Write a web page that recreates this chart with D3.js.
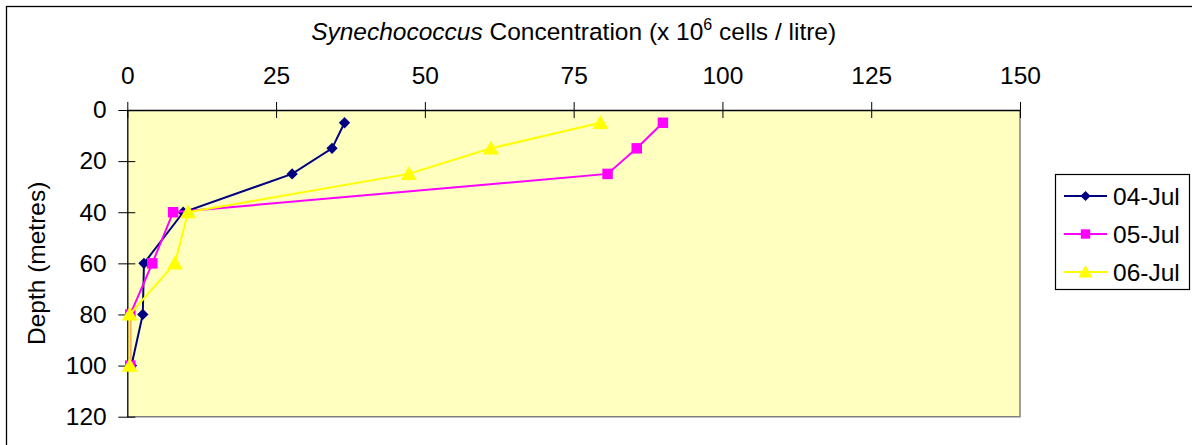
<!DOCTYPE html>
<html>
<head>
<meta charset="utf-8">
<script src="https://cdn.jsdelivr.net/npm/d3@7"></script>
<style>
  html, body { margin: 0; padding: 0; background: #fff; }
  svg { display: block; }
  text { font-family: "Liberation Sans", Arial, sans-serif; fill: #000; }
</style>
</head>
<body>
<svg id="chart" width="1192" height="445"></svg>
<script>
// Depth profile samples (metres)
const depths = [5, 15, 25, 40, 60, 80, 100];
// Synechococcus concentration (x10^6 cells / litre) for each sampling day
const seriesNames = ["04-Jul", "05-Jul", "06-Jul"];
const jul04 = [36.5, 34.4, 27.7, 9.4, 2.8, 2.6, 0.7];
const jul05 = [90.0, 85.6, 80.7, 7.7, 4.2, 0.5, 0.5];
const jul06 = [79.5, 61.1, 47.3, 10.2, 8.0, 0.4, 0.4];
const xTicks = [0, 25, 50, 75, 100, 125, 150];
const yTicks = [0, 20, 40, 60, 80, 100, 120];

const colors = ["#000080", "#ff00ff", "#ffff00"];
// diamond = square turned 45 degrees
const symbols = [d3.symbolSquare, d3.symbolSquare, d3.symbolTriangle];
const rotations = [45, 0, 0];
const symbolSizes = [64, 110, 110];
const FS = 24.5;

const svg = d3.select("#chart");
const plot = { left: 127.3, top: 110, right: 1020, bottom: 416.7 };

const x = d3.scaleLinear().domain([0, 150]).range([plot.left, plot.right]);
const y = d3.scaleLinear().domain([0, 120]).range([plot.top, plot.bottom]);

// Outer chart frame
svg.append("rect")
  .attr("x", 6.5).attr("y", 6.5)
  .attr("width", 1200).attr("height", 460)
  .attr("fill", "none").attr("stroke", "#000").attr("stroke-width", 1.3);

// Plot area background with grey right/bottom edges
svg.append("rect")
  .attr("x", plot.left).attr("y", plot.top)
  .attr("width", plot.right - plot.left).attr("height", plot.bottom - plot.top)
  .attr("fill", "#ffffc0");
svg.append("path")
  .attr("d", `M${plot.right},${plot.top}V${plot.bottom}H${plot.left}`)
  .attr("fill", "none").attr("stroke", "#808080").attr("stroke-width", 1.5);

// Top (concentration) axis
const xAxis = svg.append("g")
  .attr("transform", `translate(0,${plot.top})`)
  .call(d3.axisTop(x).tickValues(xTicks).tickFormat(d3.format("d")).tickSizeOuter(0).tickPadding(20.5));
xAxis.select(".domain").attr("stroke", "#000").attr("stroke-width", 1.3);
xAxis.selectAll(".tick line").attr("y1", 8).attr("y2", -8).attr("stroke", "#000");
xAxis.selectAll(".tick text").attr("font-size", FS).attr("font-family", "Liberation Sans, Arial, sans-serif").attr("fill", "#000");

// Left (depth) axis
const yAxis = svg.append("g")
  .attr("transform", `translate(${plot.left},0)`)
  .call(d3.axisLeft(y).tickValues(yTicks).tickFormat(d3.format("d")).tickSizeOuter(0).tickPadding(14.6));
yAxis.select(".domain").attr("stroke", "#000").attr("stroke-width", 1.3);
yAxis.selectAll(".tick line").attr("x1", 8).attr("x2", -9).attr("stroke", "#000");
yAxis.selectAll(".tick text").attr("font-size", FS).attr("font-family", "Liberation Sans, Arial, sans-serif").attr("fill", "#000");

// Axis titles
const title = svg.append("text")
  .attr("x", (plot.left + plot.right) / 2).attr("y", 40)
  .attr("text-anchor", "middle").attr("font-size", FS);
title.append("tspan").attr("font-style", "italic").text("Synechococcus");
title.append("tspan").text(" Concentration (x 10");
title.append("tspan").attr("font-size", 16).attr("dy", -10).text("6");
title.append("tspan").attr("dy", 10).text(" cells / litre)");

svg.append("text")
  .attr("transform", `translate(45,${(plot.top + plot.bottom) / 2}) rotate(-90)`)
  .attr("text-anchor", "middle").attr("font-size", FS)
  .text("Depth (metres)");

// Series lines and markers
const allSeries = [jul04, jul05, jul06];
const line = d3.line().x(d => x(d.v)).y(d => y(d.depth));

allSeries.forEach((vals, i) => {
  const pts = vals.map((v, j) => ({ v, depth: depths[j] }));
  const g = svg.append("g");
  g.append("path")
    .datum(pts)
    .attr("d", line)
    .attr("fill", "none").attr("stroke", colors[i]).attr("stroke-width", 2);
  g.selectAll("path.m")
    .data(pts).join("path")
    .attr("class", "m")
    .attr("d", d3.symbol().type(symbols[i]).size(symbolSizes[i]))
    .attr("transform", d => `translate(${x(d.v)},${y(d.depth) + (i === 2 ? 1.5 : 0)}) rotate(${rotations[i]})`)
    .attr("fill", colors[i]);
});

// Legend
const legend = svg.append("g");
legend.append("rect")
  .attr("x", 1055.5).attr("y", 174.5).attr("width", 134).attr("height", 115)
  .attr("fill", "#fff").attr("stroke", "#000").attr("stroke-width", 1.2);
const rowY = [196, 234, 272];
seriesNames.forEach((name, i) => {
  const g = legend.append("g").attr("transform", `translate(0,${rowY[i]})`);
  g.append("line").attr("x1", 1064).attr("x2", 1107)
    .attr("stroke", colors[i]).attr("stroke-width", 2);
  g.append("path")
    .attr("d", d3.symbol().type(symbols[i]).size(symbolSizes[i] * 0.8))
    .attr("transform", `translate(1085.5,${i === 2 ? 1.5 : 0}) rotate(${rotations[i]})`)
    .attr("fill", colors[i]);
  g.append("text").attr("x", 1113).attr("y", 8.5)
    .attr("font-size", FS).text(name);
});
</script>
</body>
</html>
